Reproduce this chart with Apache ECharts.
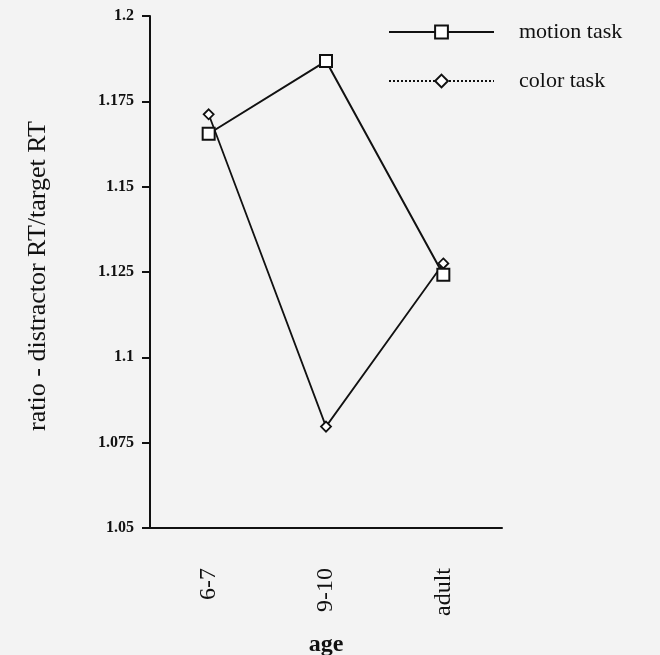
<!DOCTYPE html>
<html>
<head>
<meta charset="utf-8">
<script src="https://cdn.jsdelivr.net/npm/echarts@6/dist/echarts.min.js"></script>
<style>
html,body{margin:0;padding:0;background:#f3f3f3;}
#chart{width:660px;height:655px;}
</style>
</head>
<body>
<div id="chart"></div>
<script>
var categories = ['6-7', '9-10', 'adult'];
var motionTask = [1.1655, 1.1868, 1.1242];
var colorTask = [1.1712, 1.0797, 1.1275];
var yTicks = {min: 1.05, max: 1.2, interval: 0.025};

var serif = '"Liberation Serif", "DejaVu Serif", serif';
var chart = echarts.init(document.getElementById('chart'));
chart.setOption({
  backgroundColor: '#f3f3f3',
  animation: false,
  grid: {left: 150, right: 158, top: 16, bottom: 127, outerBoundsMode: 'none', containLabel: false},
  legend: {
    orient: 'vertical',
    left: 383,
    top: 16,
    itemWidth: 105,
    itemHeight: 16,
    itemGap: 27,
    textStyle: {fontFamily: serif, fontSize: 22, color: '#111', padding: [0, 0, 0, 20]},
    data: [
      {name: 'motion task', lineStyle: {color: '#111', width: 2, type: 'solid'}},
      {name: 'color task', lineStyle: {color: '#111', width: 2, type: 'dotted'}}
    ]
  },
  xAxis: {
    type: 'category',
    data: categories,
    boundaryGap: true,
    name: 'age',
    nameLocation: 'middle',
    nameGap: 105,
    nameTextStyle: {fontFamily: serif, fontSize: 24, fontWeight: 'bold', color: '#111'},
    axisLine: {lineStyle: {color: '#111', width: 2}},
    axisTick: {alignWithLabel: true, length: 11, lineStyle: {color: '#111', width: 2}},
    axisLabel: {rotate: 90, margin: 40, fontFamily: serif, fontSize: 24, color: '#111'},
    splitLine: {show: false}
  },
  yAxis: {
    type: 'value',
    min: yTicks.min,
    max: yTicks.max,
    interval: yTicks.interval,
    name: 'ratio - distractor RT/target RT',
    nameLocation: 'middle',
    nameGap: 99,
    nameTextStyle: {fontFamily: serif, fontSize: 26, color: '#111', padding: [0, 8, 0, 0]},
    axisLine: {show: true, lineStyle: {color: '#111', width: 2}},
    axisTick: {show: true, length: 8, lineStyle: {color: '#111', width: 2}},
    axisLabel: {margin: 16, fontFamily: serif, fontSize: 16, fontWeight: 'bold', color: '#111',
      formatter: function (v) { return String(+v.toFixed(3)); }},
    splitLine: {show: false}
  },
  series: [
    {
      name: 'motion task',
      type: 'line',
      data: motionTask,
      symbol: 'rect',
      symbolSize: 12,
      lineStyle: {color: '#111', width: 2},
      itemStyle: {color: '#fff', borderColor: '#111', borderWidth: 2},
      z: 3
    },
    {
      name: 'color task',
      type: 'line',
      data: colorTask,
      symbol: 'diamond',
      symbolSize: 10,
      lineStyle: {color: '#111', width: 1.8},
      itemStyle: {color: '#fff', borderColor: '#111', borderWidth: 1.8},
      z: 2
    }
  ]
});
</script>
</body>
</html>
